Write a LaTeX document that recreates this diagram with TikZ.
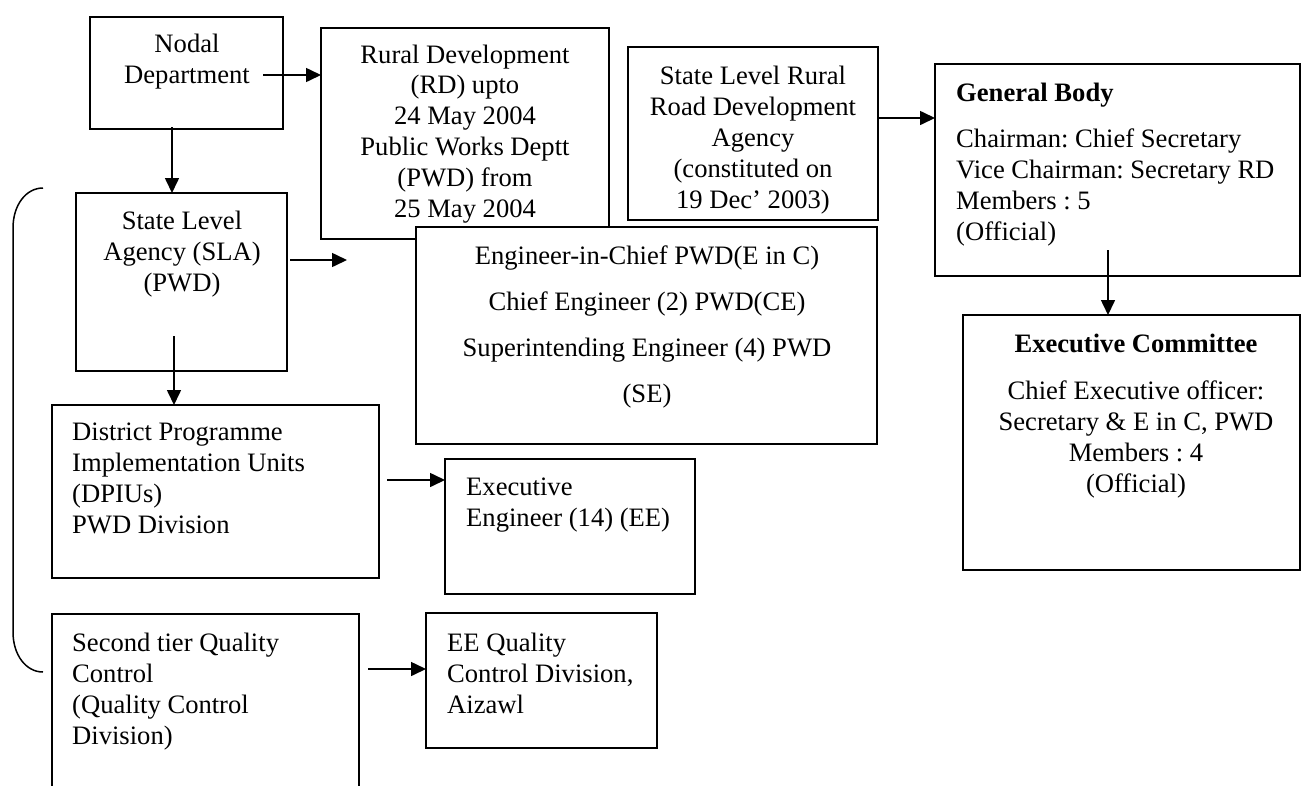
\documentclass[tikz,border=0pt]{standalone}
\usepackage{fontspec}
\setmainfont{Liberation Serif}
\usetikzlibrary{arrows.meta}
\frenchspacing
\newcommand{\fsz}{\fontsize{26.6}{31}\selectfont}
\tikzset{
  box/.style={draw, line width=1.8pt, fill=white, inner sep=0pt, outer sep=0pt, anchor=north west},
  ctext/.style={align=center, anchor=north, inner sep=0pt, font=\fsz},
  ltext/.style={align=left, anchor=north west, inner sep=0pt, font=\fsz},
  arr/.style={-{Triangle[length=15pt,width=14pt]}, line width=1.6pt},
}
\begin{document}
\begin{tikzpicture}[x=1pt,y=-1pt]
\useasboundingbox (0,0) rectangle (1301,785);
% boxes
\node[box, minimum width=193, minimum height=112] (nodal) at (90,17) {};
\node[box, minimum width=288, minimum height=211] (rd) at (321,28) {};
\node[box, minimum width=250, minimum height=173] (slr) at (628,47) {};
\node[box, minimum width=365, minimum height=212] (gb) at (935,64) {};
\node[box, minimum width=211, minimum height=178] (sla) at (76,193) {};
\node[box, minimum width=461, minimum height=217] (eng) at (416,227) {};
\node[box, minimum width=337, minimum height=255] (ec) at (963,315) {};
\node[box, minimum width=327, minimum height=173] (dpiu) at (52,405) {};
\node[box, minimum width=250, minimum height=135] (ee) at (445,459) {};
\node[box, draw=none, minimum width=307, minimum height=176] (st) at (52,614) {};
\draw[line width=1.8pt] (st.south west) -- (st.north west) -- (st.north east) -- (st.south east);
\node[box, minimum width=231, minimum height=135] (eeq) at (426,613) {};
% texts
\node[ctext] (nodal-t) at (187,33.5) {Nodal\\Department};
\node[ctext, font=\fontsize{26.6}{30.8}\selectfont] (rd-t) at (465,44.5) {Rural Development\\(RD) upto\\24 May 2004\\Public Works Deptt\\(PWD) from\\25 May 2004};
\node[ctext] (slr-t) at (753,65.5) {State Level Rural\\Road Development\\Agency\\(constituted on\\19 Dec’ 2003)};
\node[ltext] (gb-t) at (956,82.5) {\textbf{General Body}\\[15pt]Chairman: Chief Secretary\\Vice Chairman: Secretary RD\\Members : 5\\(Official)};
\node[ctext] (sla-t) at (182,210.5) {State Level\\Agency (SLA)\\(PWD)};
\node[ctext] (eng-t) at (647,245.5) {Engineer-in-Chief PWD(E in C)\\[15pt]Chief Engineer (2) PWD(CE)\\[15pt]Superintending Engineer (4) PWD\\[15pt](SE)};
\node[ctext] (ec-t) at (1136,333.5) {\textbf{Executive Committee}\\[16pt]Chief Executive officer:\\Secretary \& E in C, PWD\\Members : 4\\(Official)};
\node[ltext] (dpiu-t) at (72,422.5) {District Programme\\Implementation Units\\(DPIUs)\\PWD Division};
\node[ltext] (ee-t) at (466,477.5) {Executive\\Engineer (14) (EE)};
\node[ltext] (st-t) at (72,632.5) {Second tier Quality\\Control\\(Quality Control\\Division)};
\node[ltext] (eeq-t) at (447,632.5) {EE Quality\\Control Division,\\Aizawl};
% bracket
\draw[line width=1.5pt] (43,188) .. controls (26,188) and (13,205) .. (13,228) -- (13,632) .. controls (13,655) and (26,672) .. (43,672);
% connectors
\coordinate (n1) at (263,75);
\draw[arr] (n1) -- (n1 -| rd.west);
\coordinate (n2) at (172,127);
\draw[arr] (n2) -- (n2 |- sla.north);
\coordinate (s1) at (290,260);
\coordinate (s1e) at (347,260);
\draw[arr] (s1) -- (s1e);
\coordinate (s2) at (174,336);
\draw[arr] (s2) -- (s2 |- dpiu.north);
\coordinate (d1) at (387,480);
\draw[arr] (d1) -- (d1 -| ee.west);
\coordinate (q1) at (368,669);
\draw[arr] (q1) -- (q1 -| eeq.west);
\coordinate (r1) at (878,118);
\draw[arr] (r1 -| slr.east) -- (r1 -| gb.west);
\coordinate (g1) at (1108,250);
\draw[arr] (g1) -- (g1 |- ec.north);
\end{tikzpicture}
\end{document}
